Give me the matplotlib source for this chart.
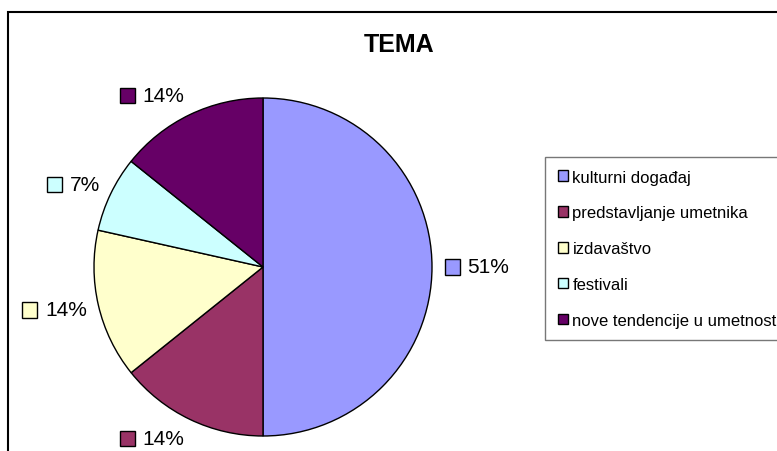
import numpy as np
import matplotlib
matplotlib.use("Agg")
import matplotlib.pyplot as plt
from matplotlib.patches import Rectangle, Patch
from matplotlib.offsetbox import DrawingArea, TextArea, HPacker, AnnotationBbox

plt.rcParams['font.family'] = ['Liberation Sans', 'DejaVu Sans']

categories = ["kulturni događaj", "predstavljanje umetnika", "izdavaštvo",
              "festivali", "nove tendencije u umetnost"]
values = [50.0, 14.25, 14.25, 7.25, 14.25]
pct_labels = ["51%", "14%", "14%", "7%", "14%"]
colors = ["#9999FF", "#993366", "#FFFFCC", "#CCFFFF", "#660066"]

W, H = 777, 452
fig = plt.figure(figsize=(W / 100, H / 100), dpi=100)

# outer chart frame (cropped on right/bottom)
fig.patches.append(Rectangle((8 / W, -0.2), 1.5, 1 - 13 / H + 0.2,
                             transform=fig.transFigure, fill=False,
                             edgecolor='black', linewidth=1.5))

ax = fig.add_axes([94 / W, 15 / H, 338 / W, 338 / H])
wedges, _ = ax.pie(values, colors=colors, startangle=90, counterclock=False,
                   wedgeprops=dict(edgecolor='black', linewidth=1.0))
ax.set_xlim(-1, 1)
ax.set_ylim(-1, 1)
ax.set_aspect('equal')
ax.axis('off')

r_lab = 1.07
for w, lab, col in zip(wedges, pct_labels, colors):
    ang = np.deg2rad((w.theta1 + w.theta2) / 2)
    c, s = np.cos(ang), np.sin(ang)
    da = DrawingArea(12, 12, 0, 0)
    da.add_artist(Rectangle((0.5, 0.5), 11, 11, facecolor=col,
                            edgecolor='black', linewidth=1.0))
    ta = TextArea(lab, textprops=dict(fontsize=15, color='black'))
    box = HPacker(children=[da, ta], align='center', pad=0, sep=5)
    ab = AnnotationBbox(box, (r_lab * c, r_lab * s),
                        xycoords='data', frameon=False,
                        box_alignment=(0.5 - 0.5 * np.sign(c), 0.5 - 0.5 * s),
                        annotation_clip=False)
    ax.add_artist(ab)

fig.text(399 / W, 1 - 45 / H, "TEMA", fontsize=18, fontweight='bold',
         ha='center', va='center')

handles = [Patch(facecolor=c, edgecolor='black', linewidth=1.0) for c in colors]
leg = fig.legend(handles, categories, loc='upper left',
                 bbox_to_anchor=(545 / W, 1 - 158 / H),
                 bbox_transform=fig.transFigure,
                 fontsize=12, frameon=True, fancybox=False,
                 handlelength=0.6, handleheight=0.6, handletextpad=0.3,
                 labelspacing=1.25, borderpad=0.75, borderaxespad=0)
leg.get_frame().set_edgecolor('#555555')
leg.get_frame().set_linewidth(1.0)

fig.savefig("out.png", dpi=100)
